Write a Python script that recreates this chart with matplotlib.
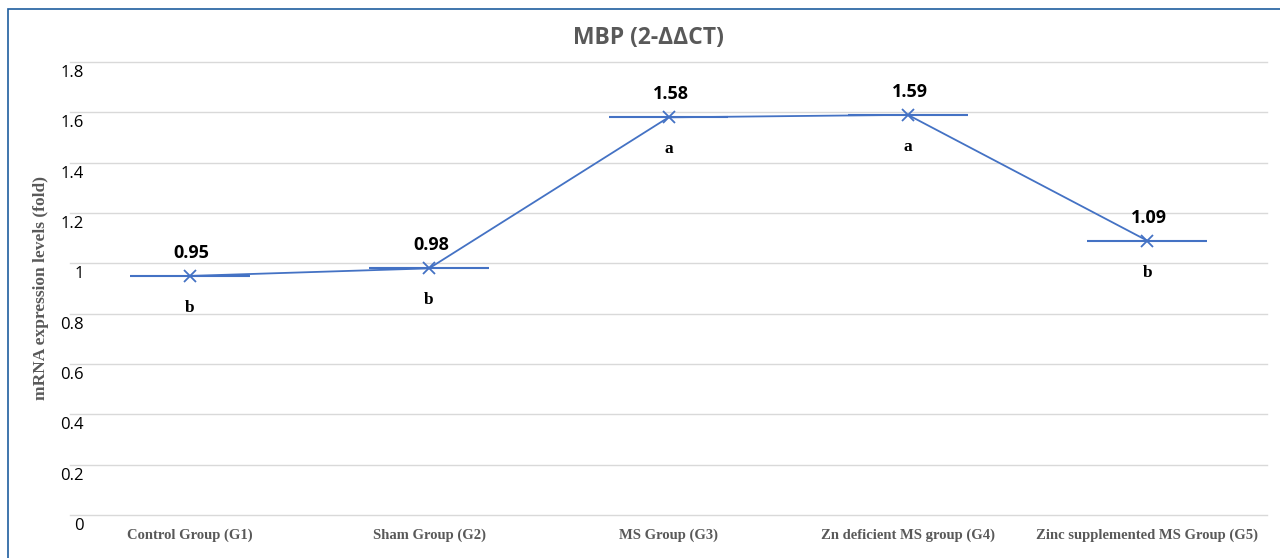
import matplotlib
matplotlib.use("Agg")
import matplotlib.pyplot as plt
from matplotlib.transforms import ScaledTranslation
from matplotlib.patches import Rectangle

categories = ["Control Group (G1)", "Sham Group (G2)", "MS Group (G3)",
              "Zn deficient MS group (G4)", "Zinc supplemented MS Group (G5)"]
values = [0.95, 0.98, 1.58, 1.59, 1.09]
letters = ["b", "b", "a", "a", "b"]
yticks = [0, 0.2, 0.4, 0.6, 0.8, 1.0, 1.2, 1.4, 1.6, 1.8]
ytick_labels = ["0", "0.2", "0.4", "0.6", "0.8", "1", "1.2", "1.4", "1.6", "1.8"]

sans = ["Open Sans", "DejaVu Sans"]
serif = ["Liberation Serif", "DejaVu Serif"]
line_color = "#4472C4"
gray = "#595959"

fig = plt.figure(figsize=(12.8, 5.58), dpi=100)
ax = fig.add_axes([70/1280, 1-515/558, (1267-70)/1280, (515-62)/558])

x = list(range(len(categories)))
ax.plot(x, values, color=line_color, lw=1.3, marker="x", markersize=9,
        markeredgewidth=1.3, zorder=3)
ax.errorbar(x, values, xerr=0.25, fmt="none", ecolor=line_color,
            elinewidth=1.5, capsize=0, zorder=3)

for xi, v, l in zip(x, values, letters):
    ax.annotate(f"{v:.2f}", (xi, v), xytext=(2, 23), textcoords="offset pixels",
                ha="center", va="center", fontsize=13, fontweight="bold",
                family=sans, color="black")
    ax.annotate(l, (xi, v), xytext=(0, -32), textcoords="offset pixels",
                ha="center", va="center", fontsize=12.5, fontweight="bold",
                family=serif, color="black")

ax.set_xlim(-0.5, len(categories) - 0.5)
ax.set_ylim(0, 1.8)
ax.set_yticks(yticks)
ax.set_yticklabels(ytick_labels, family=sans, fontsize=12, color="black")
ax.set_xticks(x)
ax.set_xticklabels(categories, family=serif, fontsize=10.5, fontweight="bold",
                   color=gray)
ax.tick_params(axis="y", length=0, pad=0)
ax.tick_params(axis="x", length=0, pad=10)
for lab in ax.get_yticklabels():
    lab.set_transform(lab.get_transform() + ScaledTranslation(0.14, -0.09, fig.dpi_scale_trans))

ax.grid(axis="y", color="#D9D9D9", lw=1)
for gl in ax.get_ygridlines():
    gl.set_clip_on(False)
ax.set_axisbelow(True)
for s in ax.spines.values():
    s.set_visible(False)

ax.set_ylabel("mRNA expression levels (fold)", family=serif, fontsize=12.5,
              fontweight="bold", color=gray, labelpad=8)

fig.text(648/1280, 1-38/558, "MBP (2-ΔΔCT)", ha="center", va="center",
         fontsize=16.5, fontweight="bold", family=sans, color=gray)

fig.add_artist(Rectangle((8/1280, -0.1), 1.2, 1 - 9/558 + 0.1,
                         transform=fig.transFigure, fill=False,
                         edgecolor="#1F5E9E", lw=1.2))

fig.savefig("out.png", dpi=100)
